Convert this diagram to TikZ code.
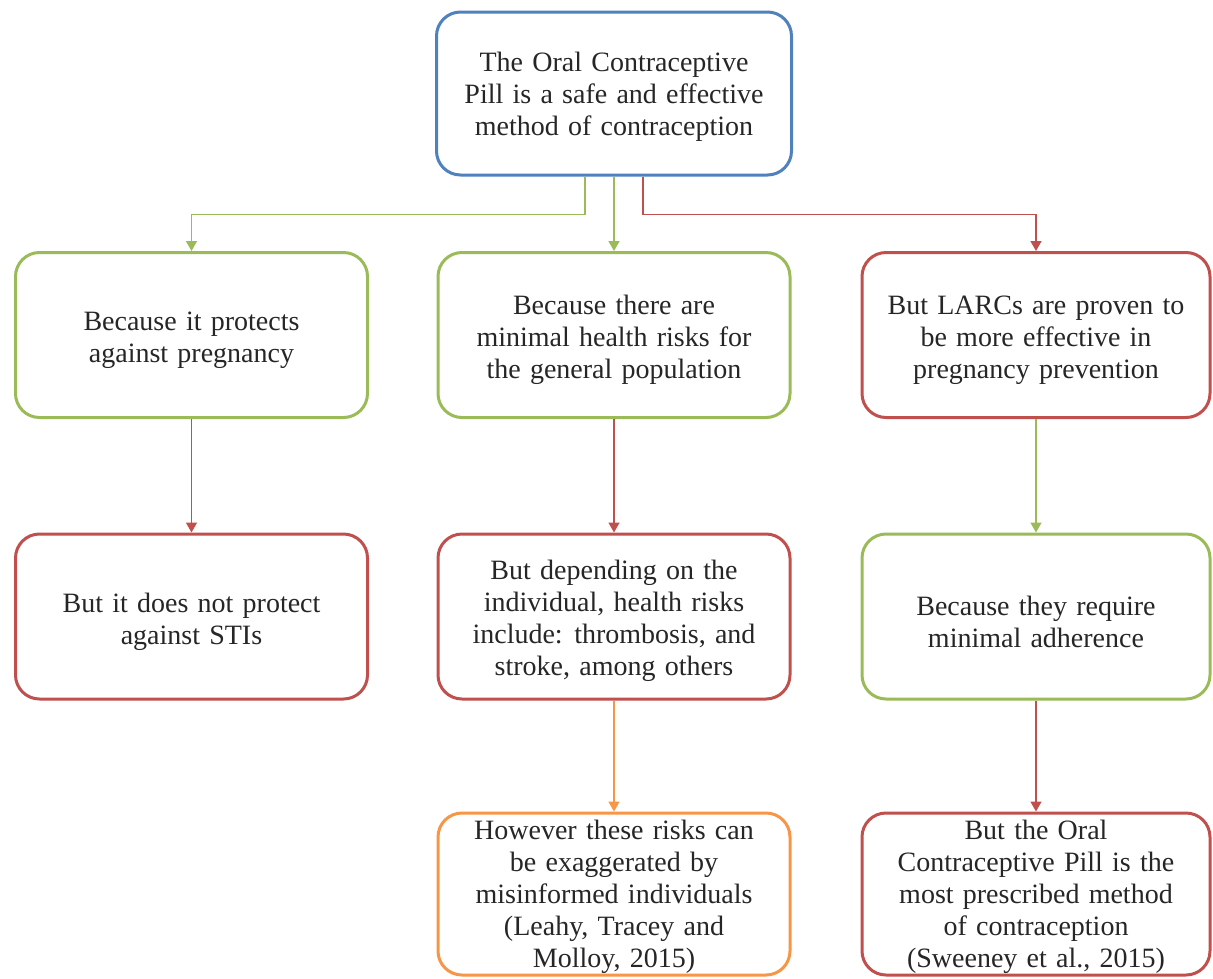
\documentclass[tikz,border=0pt]{standalone}
\usepackage{fontspec}
\setmainfont{Liberation Serif}
\usetikzlibrary{arrows.meta}

\definecolor{boxblue}{HTML}{4F81BD}
\definecolor{boxgreen}{HTML}{9BBB59}
\definecolor{boxred}{HTML}{C0504D}
\definecolor{boxorange}{HTML}{F79646}

\newcommand\cardfont{\fontsize{28}{32}\selectfont\spaceskip=0.33em plus 0.1em\relax}

\tikzset{
  card/.style={draw=#1, line width=3pt, rounded corners=24pt, fill=white,
    inner sep=0pt, minimum width=352pt, minimum height=165pt},
  cardtext/.style={align=center, inner sep=0pt, text=black!85, font=\cardfont},
  conn/.style={draw=#1, line width=1.5pt,
    -{Triangle[width=11pt,length=10pt]}},
}

\begin{document}
\begin{tikzpicture}[x=1pt,y=-1pt]
  \fill[white] (0,0) rectangle (1213,978);
  \useasboundingbox (0,0) rectangle (1213,978);

  % boxes
  \node[card=boxblue, minimum width=355pt, minimum height=163pt] (top) at (614,93.5) {};
  \node[card=boxgreen] (l2) at (191.5,335) {};
  \node[card=boxgreen] (m2) at (614,335) {};
  \node[card=boxred, minimum width=348pt] (r2) at (1036,335) {};
  \node[card=boxred] (l3) at (191.5,616.5) {};
  \node[card=boxred] (m3) at (614,616.5) {};
  \node[card=boxgreen, minimum width=348pt] (r3) at (1036,616.5) {};
  \node[card=boxorange, minimum height=162pt] (m4) at (614,894) {};
  \node[card=boxred, minimum width=348pt, minimum height=162pt] (r4) at (1036,894) {};

  % texts, set a little below each box centre
  \node[cardtext] (topt) at ([yshift=-3pt]top.center)
    {The Oral Contraceptive\\Pill is a safe and effective\\method of contraception};
  \node[cardtext] (l2t) at ([yshift=-5pt]l2.center)
    {Because it protects\\against pregnancy};
  \node[cardtext] (m2t) at ([yshift=-5pt]m2.center)
    {Because there are\\minimal health risks for\\the general population};
  \node[cardtext] (r2t) at ([yshift=-5pt]r2.center)
    {But LARCs are proven to\\be more effective in\\pregnancy prevention};
  \node[cardtext] (l3t) at ([yshift=-5pt]l3.center)
    {But it does not protect\\against STIs};
  \node[cardtext] (m3t) at ([yshift=-4pt]m3.center)
    {But depending on the\\individual, health risks\\include: thrombosis, and\\stroke, among others};
  \node[cardtext] (r3t) at ([yshift=-5pt]r3.center)
    {Because they require\\minimal adherence};
  \node[cardtext] (m4t) at ([yshift=-3pt]m4.center)
    {However these risks can\\be exaggerated by\\misinformed individuals\\(Leahy, Tracey and\\Molloy, 2015)};
  \node[cardtext] (r4t) at ([yshift=-3pt]r4.center)
    {But the Oral\\Contraceptive Pill is the\\most prescribed method\\of contraception\\(Sweeney et al., 2015)};

  % connectors from the claim
  \draw[conn=boxgreen] ([xshift=-29pt]top.south) -- ++(0,38) -| (l2.north);
  \draw[conn=boxgreen] (top.south) -- (m2.north);
  \draw[conn=boxred] ([xshift=29pt]top.south) -- ++(0,38) -| (r2.north);

  % connectors down the columns
  \draw[conn=boxred] (l2.south) -- (l3.north);
  \draw[conn=boxred] (m2.south) -- (m3.north);
  \draw[conn=boxgreen] (r2.south) -- (r3.north);
  \draw[conn=boxorange] (m3.south) -- (m4.north);
  \draw[conn=boxred] (r3.south) -- (r4.north);
\end{tikzpicture}
\end{document}
